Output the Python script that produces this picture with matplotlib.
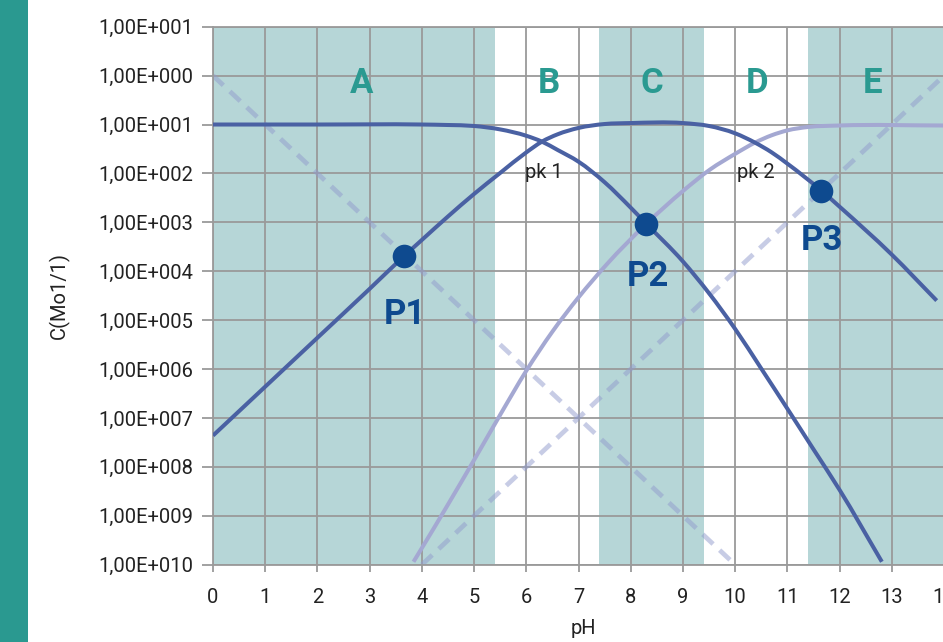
import matplotlib
matplotlib.use("Agg")
import matplotlib.pyplot as plt
from matplotlib.patches import Rectangle, PathPatch
from matplotlib.path import Path

plt.rcParams['font.family'] = ['Roboto', 'DejaVu Sans']

# ---------------- data ----------------
x_ticks = list(range(0, 15))
y_tick_exps = list(range(1, -11, -1))
y_tick_labels = ["1,00E+001", "1,00E+000", "1,00E+001", "1,00E+002", "1,00E+003",
                 "1,00E+004", "1,00E+005", "1,00E+006", "1,00E+007", "1,00E+008",
                 "1,00E+009", "1,00E+010"]

# H2A (dark, starts high) – log10 of concentration
h2a_ph = [0, 2, 4, 4.5, 5, 5.5, 6, 6.3, 6.6, 7, 7.5, 8, 8.3, 9, 9.5, 10, 10.5, 11, 11.5, 12, 12.81]
h2a_log = [-1.0, -1.0, -1.0, -1.01, -1.03, -1.10, -1.23, -1.35, -1.52, -1.76, -2.18, -2.70, -3.03,
           -3.80, -4.45, -5.18, -5.99, -6.81, -7.64, -8.47, -9.94]

# HA- (dark, bell)
ha_ph = [0, 1, 2, 3, 3.66, 4, 4.5, 5, 5.5, 6, 6.3, 6.6, 7, 7.5, 8, 9, 9.5, 10, 10.38, 10.7,
         11, 11.65, 12, 13, 13.86]
ha_log = [-7.36, -6.36, -5.36, -4.36, -3.69, -3.36, -2.88, -2.42, -1.99, -1.57, -1.35, -1.20,
          -1.07, -0.99, -0.97, -0.97, -1.03, -1.18, -1.37, -1.57, -1.80, -2.35, -2.68, -3.66,
          -4.60]

# A2- (light, rising)
a2_ph = [3.84, 4.0, 4.5, 5.0, 5.5, 6.0, 6.5, 7.0, 7.54, 8.3, 9.0, 9.52, 10.0, 10.38, 10.7, 11.0,
         11.4, 12.0, 14.0]
a2_log = [-9.94, -9.66, -8.77, -7.86, -6.935, -6.035, -5.235, -4.535, -3.86, -3.03, -2.36, -1.92,
          -1.60, -1.37, -1.22, -1.12, -1.05, -1.02, -1.02]

# H+ and OH- dashed lines
hplus_ph = [0, 10]
hplus_log = [0, -10]
ohminus_ph = [4, 14]
ohminus_log = [-10, 0]

# Points
pts_ph = [3.66, 8.30, 11.64]
pts_log = [-3.69, -3.03, -2.35]
pts_labels = ["P1", "P2", "P3"]

# Zones
zone_edges = [(0, 5.4), (7.4, 9.4), (11.4, 14.2)]
zone_letters = ["A", "B", "C", "D", "E"]
zone_letter_ph = [2.85, 6.44, 8.41, 10.42, 12.64]

pk_labels = ["pk 1", "pk 2"]
pk_ph = [6.34, 10.39]

# ---------------- styles ----------------
W, H = 943, 642
DPI = 100
dark = "#4a61a3"
light = "#a4a8d2"
dash_col = (145/255, 155/255, 205/255, 0.5)
grid_col = "#9a9a9a"
band_col = "#b6d6d7"
teal = "#2a9a91"
pcol = "#0e4a8f"


def smooth_path(xs, ls):
    """Cubic Hermite curve through the read points, drawn as Bezier segments
    (control points in pH / log space, which is linear on a log axis)."""
    n = len(xs)
    slopes = []
    for i in range(n):
        if i == 0:
            m = (ls[1] - ls[0]) / (xs[1] - xs[0])
        elif i == n - 1:
            m = (ls[-1] - ls[-2]) / (xs[-1] - xs[-2])
        else:
            h0 = xs[i] - xs[i - 1]
            h1 = xs[i + 1] - xs[i]
            d0 = (ls[i] - ls[i - 1]) / h0
            d1 = (ls[i + 1] - ls[i]) / h1
            m = (d0 * h1 + d1 * h0) / (h0 + h1)
        slopes.append(m)
    verts = [(xs[0], 10.0 ** ls[0])]
    codes = [Path.MOVETO]
    for i in range(n - 1):
        h = xs[i + 1] - xs[i]
        c1 = (xs[i] + h / 3, 10.0 ** (ls[i] + slopes[i] * h / 3))
        c2 = (xs[i + 1] - h / 3, 10.0 ** (ls[i + 1] - slopes[i + 1] * h / 3))
        verts += [c1, c2, (xs[i + 1], 10.0 ** ls[i + 1])]
        codes += [Path.CURVE4, Path.CURVE4, Path.CURVE4]
    return Path(verts, codes)


fig = plt.figure(figsize=(W / DPI, H / DPI), dpi=DPI)
fig.patches.append(Rectangle((0, 0), 28 / W, 1, transform=fig.transFigure,
                             facecolor="#2a9990", edgecolor="none", zorder=0))

x0, x1 = 213, 944
y0, y1 = 26.7, 564.7
ax = fig.add_axes([x0 / W, 1 - y1 / H, (x1 - x0) / W, (y1 - y0) / H])
ax.set_yscale("log")
ax.set_xlim(0, 14)
ax.set_ylim(1e-10, 1e1)

for a, b in zone_edges:
    ax.axvspan(a, b, color=band_col, zorder=0, lw=0)

ax.grid(True, which="major", color=grid_col, lw=1.3, zorder=1)
ax.minorticks_off()
ax.set_axisbelow(True)

ax.set_xticks(x_ticks)
ax.set_xticklabels([str(v) for v in x_ticks])
ax.set_yticks([10.0 ** e for e in y_tick_exps])
ax.set_yticklabels(y_tick_labels)
ax.tick_params(axis="y", length=8, width=1.3, color=grid_col, pad=6,
               labelsize=14.5, labelcolor="#222222")
ax.tick_params(axis="x", length=5, width=1.3, color=grid_col, pad=12,
               labelsize=14.5, labelcolor="#222222")
for s in ["left", "bottom", "top", "right"]:
    ax.spines[s].set_color(grid_col)
    ax.spines[s].set_linewidth(1.3)

# dashed lines
ax.plot(hplus_ph, [10.0 ** v for v in hplus_log], color=dash_col, lw=3.4,
        dashes=(3.0, 1.9), dash_capstyle="butt", zorder=2)
ax.plot(ohminus_ph, [10.0 ** v for v in ohminus_log], color=dash_col, lw=3.4,
        dashes=(3.0, 1.9), dash_capstyle="butt", zorder=2)

# curves
for xs, ls, col, z in [(a2_ph, a2_log, light, 3), (h2a_ph, h2a_log, dark, 4),
                       (ha_ph, ha_log, dark, 4)]:
    ax.add_patch(PathPatch(smooth_path(xs, ls), facecolor="none", edgecolor=col,
                           lw=2.9, capstyle="butt", joinstyle="round", zorder=z))

ax.plot(pts_ph, [10.0 ** v for v in pts_log], "o", color=pcol, ms=17, mew=0, zorder=6,
        clip_on=False)

# P labels
p_label_pos = [(3.68, -5.07), (8.33, -4.30), (11.66, -3.57)]
for lab, (px, py) in zip(pts_labels, p_label_pos):
    ax.text(px, 10.0 ** py, lab, color=pcol, fontsize=25, fontweight="bold",
            ha="center", va="baseline", zorder=7)

for lab, px in zip(zone_letters, zone_letter_ph):
    ax.text(px, 10.0 ** -0.35, lab, color=teal, fontsize=25, fontweight="bold",
            ha="center", va="baseline", zorder=7)

for lab, px in zip(pk_labels, pk_ph):
    ax.text(px, 10.0 ** -2.10, lab, color="#222222", fontsize=14.5,
            ha="center", va="baseline", zorder=7)

ax.set_xlabel("pH", fontsize=14.5, color="#222222")
ax.set_ylabel("C(Mo1/1)", fontsize=14.5, color="#222222")
ax.xaxis.set_label_coords((583 - x0) / (x1 - x0), -(619 - y1) / (y1 - y0))
ax.yaxis.set_label_coords((70 - x0) / (x1 - x0), 0.5)

fig.savefig("out.png", dpi=DPI)
